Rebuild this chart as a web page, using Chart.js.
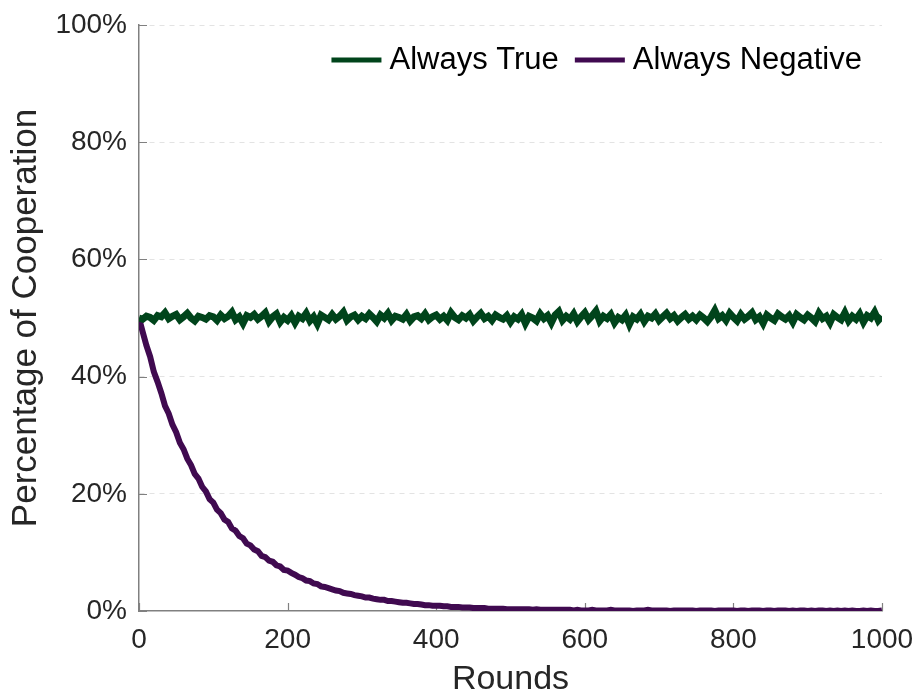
<!DOCTYPE html>
<html>
<head>
<meta charset="utf-8">
<script src="https://cdn.jsdelivr.net/npm/chart.js@4.4.1/dist/chart.umd.min.js"></script>
<style>
  html,body{margin:0;padding:0;background:#fff;}
  #wrap{width:918px;height:691px;}
</style>
</head>
<body>
<div id="wrap"><canvas id="c" width="918" height="691"></canvas></div>
<script>
// rounds sampled every 5
const rounds = [];
for (let r = 0; r <= 1000; r += 5) rounds.push(r);

const seriesNames = ['Always True', 'Always Negative'];
const yTicks = [0, 20, 40, 60, 80, 100];
const xTicks = [0, 200, 400, 600, 800, 1000];

// Always True (percent)
const alwaysTrue = [
  50.0, 49.8, 50.3, 50.1, 49.6, 50.4, 50.2, 50.9, 49.9, 50.3, 50.6, 49.7, 50.2, 50.8, 50.0, 49.5, 50.3, 50.1, 49.8, 50.4,
  50.2, 49.6, 50.5, 49.9, 50.3, 51.0, 49.7, 50.2, 49.1, 50.4, 50.1, 50.6, 49.8, 50.3, 50.9, 49.4, 50.2, 50.7, 49.3, 50.1,
  49.6, 50.4, 49.2, 50.3, 49.9, 50.8, 49.5, 50.2, 49.0, 50.5, 50.1, 49.7, 50.6, 49.8, 50.3, 51.0, 49.6, 50.2, 50.5, 49.7,
  50.3, 49.9, 50.7, 50.1, 49.4, 50.5, 50.0, 50.8, 49.6, 50.3, 50.1, 49.8, 50.6, 49.5, 50.2, 50.4, 49.9, 50.7, 49.7, 50.2,
  50.5, 49.8, 50.3, 49.6, 50.9, 50.1, 49.7, 50.4, 50.0, 50.6, 49.5, 50.2, 50.8, 49.9, 50.3, 49.6, 50.5, 50.1, 49.8, 50.4,
  49.3, 50.2, 49.8, 50.6, 49.1, 50.3, 50.0, 49.5, 50.7, 49.9, 50.4, 49.2, 50.5, 51.1, 49.6, 50.3, 49.8, 50.7, 49.4, 50.2,
  50.9, 49.7, 50.4, 51.2, 49.5, 50.3, 49.9, 50.6, 49.2, 50.1, 49.7, 50.5, 48.9, 50.2, 49.8, 50.6, 49.4, 50.3, 50.0, 50.7,
  49.6, 50.2, 50.8, 49.9, 50.4, 49.5, 50.1, 50.6, 49.8, 50.3, 49.7, 50.5, 50.0, 49.4, 50.2, 51.3, 49.9, 50.4, 49.6, 50.8,
  50.1, 49.5, 50.6, 49.8, 50.3, 50.9, 49.7, 50.2, 49.1, 50.5, 50.0, 49.6, 50.7, 50.2, 49.8, 50.4, 49.3, 50.6, 50.1, 49.7,
  50.5, 50.0, 49.4, 50.8, 49.9, 50.3, 49.2, 50.6, 50.1, 49.7, 50.9, 49.5, 50.3, 49.8, 50.7, 49.3, 50.4, 50.0, 51.0, 49.6,
  50.3
];

// Always Negative (percent)
const alwaysNegative = [
  50.0, 47.6, 45.3, 43.4, 40.8, 39.1, 37.2, 35.0, 33.7, 31.8, 30.5, 28.7, 27.6, 26.0, 24.9, 23.4, 22.6, 21.2, 20.4, 19.1,
  18.5, 17.3, 16.7, 15.6, 15.2, 14.1, 13.7, 12.8, 12.4, 11.5, 11.2, 10.5, 10.2, 9.4, 9.2, 8.6, 8.4, 7.8, 7.6, 7.0,
  6.9, 6.5, 6.2, 5.8, 5.6, 5.2, 5.1, 4.7, 4.6, 4.2, 4.1, 3.9, 3.7, 3.5, 3.4, 3.1, 3.0, 2.9, 2.7, 2.6,
  2.5, 2.3, 2.3, 2.1, 2.0, 1.9, 1.9, 1.7, 1.7, 1.6, 1.5, 1.4, 1.4, 1.3, 1.2, 1.2, 1.1, 1.0, 1.0, 0.9,
  0.9, 0.9, 0.8, 0.8, 0.7, 0.7, 0.7, 0.6, 0.6, 0.6, 0.5, 0.5, 0.5, 0.5, 0.4, 0.4, 0.4, 0.4, 0.4, 0.3,
  0.3,
  0.3, 0.3, 0.3, 0.3, 0.3, 0.2, 0.3, 0.2, 0.2, 0.2, 0.2, 0.2, 0.2, 0.2, 0.2, 0.2, 0.1, 0.2, 0.1, 0.1,
  0.1, 0.2, 0.1, 0.1, 0.1, 0.1, 0.2, 0.1, 0.1, 0.1, 0.1, 0.1, 0.0, 0.1, 0.1, 0.1, 0.2, 0.1, 0.1, 0.1,
  0.1, 0.1, 0.0, 0.1, 0.1, 0.1, 0.1, 0.1, 0.1, 0.0, 0.1, 0.1, 0.1, 0.1, 0.0, 0.1, 0.1, 0.1, 0.1, 0.1,
  0.0, 0.1, 0.1, 0.0, 0.1, 0.1, 0.1, 0.0, 0.1, 0.1, 0.0, 0.1, 0.1, 0.1, 0.0, 0.1, 0.0, 0.1, 0.1, 0.0,
  0.1, 0.0, 0.1, 0.1, 0.0, 0.1, 0.0, 0.1, 0.0, 0.1, 0.0, 0.1, 0.0, 0.0, 0.1, 0.0, 0.1, 0.0, 0.0, 0.1
];

const colors = ['#00441b', '#400a50'];
const FONT = "'Liberation Sans', Arial, Helvetica, sans-serif";
const TXT = '#262626';
const AXIS = '#808080';

// short inward tick marks, like the original
const innerTicks = {
  id: 'innerTicks',
  beforeDatasetsDraw(chart) {
    const ctx = chart.ctx, a = chart.chartArea;
    const xs = chart.scales.x, ys = chart.scales.y;
    ctx.save();
    ctx.strokeStyle = AXIS;
    ctx.lineWidth = 1.2;
    ctx.beginPath();
    xTicks.forEach(v => {
      const px = Math.round(xs.getPixelForValue(v)) + 0.5;
      ctx.moveTo(px, a.bottom); ctx.lineTo(px, a.bottom - 8);
    });
    yTicks.forEach(v => {
      const py = Math.round(ys.getPixelForValue(v)) + 0.5;
      ctx.moveTo(a.left, py); ctx.lineTo(a.left + 8, py);
    });
    ctx.stroke();
    ctx.restore();
  }
};

// legend drawn inside the plot, top right, no frame
const innerLegend = {
  id: 'innerLegend',
  afterDraw(chart) {
    const ctx = chart.ctx, a = chart.chartArea;
    const ds = chart.data.datasets;
    ctx.save();
    ctx.font = '31px ' + FONT;
    ctx.textBaseline = 'middle';
    ctx.textAlign = 'left';
    const y = a.top + 35;
    let x = a.right - 20;
    for (let i = ds.length - 1; i >= 0; i--) {
      const w = ctx.measureText(ds[i].label).width;
      x -= w;
      ctx.fillStyle = '#000';
      ctx.fillText(ds[i].label, x, y);
      x -= 8;
      ctx.strokeStyle = ds[i].borderColor;
      ctx.lineWidth = 5;
      ctx.beginPath();
      ctx.moveTo(x - 50, y); ctx.lineTo(x, y);
      ctx.stroke();
      x -= 50 + 16;
    }
    ctx.restore();
  }
};

new Chart(document.getElementById('c'), {
  type: 'line',
  data: {
    datasets: [
      {label: seriesNames[0], data: rounds.map((r, i) => ({x: r, y: alwaysTrue[i]})),
       borderColor: colors[0], backgroundColor: colors[0], borderWidth: 7, pointRadius: 0, tension: 0},
      {label: seriesNames[1], data: rounds.map((r, i) => ({x: r, y: alwaysNegative[i]})),
       borderColor: colors[1], backgroundColor: colors[1], borderWidth: 6, pointRadius: 0, tension: 0}
    ]
  },
  options: {
    responsive: false,
    animation: false,
    layout: {padding: {left: 0, right: 36, top: 25, bottom: 0}},
    plugins: {
      tooltip: {enabled: false},
      legend: {display: false}
    },
    scales: {
      x: {
        type: 'linear', min: 0, max: 1000,
        afterFit(s) { s.height = 80; s.paddingLeft = 0; s.paddingRight = 0; },
        afterBuildTicks(s) { s.ticks = xTicks.map(v => ({value: v})); },
        ticks: {font: {family: FONT, size: 28}, color: TXT, padding: 12, maxRotation: 0, callback: v => String(v)},
        grid: {display: false, drawTicks: false},
        border: {display: true, color: AXIS, width: 1.5},
        title: {display: true, text: 'Rounds', color: TXT, font: {family: FONT, size: 34, lineHeight: 0.65}, padding: {top: 0, bottom: 0}}
      },
      y: {
        min: 0, max: 100,
        afterFit(s) { s.width = 139; s.paddingTop = 0; s.paddingBottom = 0; },
        afterBuildTicks(s) { s.ticks = yTicks.map(v => ({value: v})); },
        ticks: {font: {family: FONT, size: 28}, color: TXT, padding: 12, callback: v => v + '%'},
        grid: {color: c => c.tick && c.tick.value === 0 ? 'rgba(0,0,0,0)' : '#e3e3e3', drawTicks: false, lineWidth: 1},
        border: {display: true, color: AXIS, width: 1.5, dash: [5, 5]},
        title: {display: true, text: 'Percentage of Cooperation', color: TXT, font: {family: FONT, size: 35, lineHeight: 1}, padding: {top: 9, bottom: 0}}
      }
    }
  },
  plugins: [innerTicks, innerLegend]
});
</script>
</body>
</html>
